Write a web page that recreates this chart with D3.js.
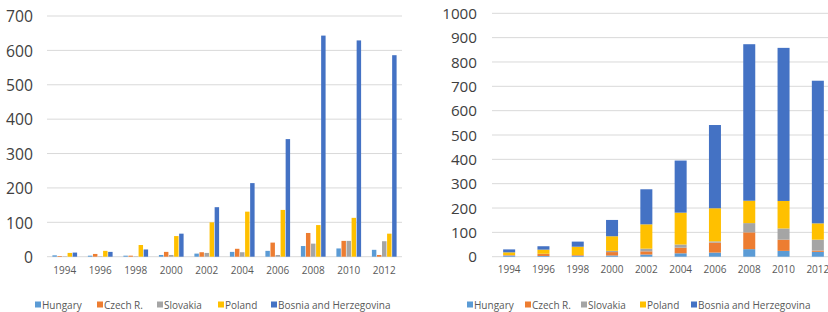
<!DOCTYPE html>
<html>
<head>
<meta charset="utf-8">
<script src="https://cdn.jsdelivr.net/npm/d3@7"></script>
<style>
  body { margin: 0; background: #fff; overflow: hidden; }
  svg { display: block; font-family: "Open Sans", sans-serif; }
</style>
</head>
<body>
<div id="container"></div>
<script>
/* data */
const years = ["1994", "1996", "1998", "2000", "2002", "2004", "2006", "2008", "2010", "2012"];
const countries = ["Hungary", "Czech R.", "Slovakia", "Poland", "Bosnia and Herzegovina"];
const hungary  = [4, 3, 3, 5, 9, 14, 17, 31, 24, 20];
const czech    = [2, 8, 3, 14, 13, 23, 41, 69, 46, 5];
const slovakia = [1, 1, 1, 5, 11, 13, 5, 38, 46, 45];
const poland   = [11, 17, 34, 60, 100, 131, 136, 92, 113, 67];
const bosnia   = [12, 14, 21, 67, 144, 214, 342, 643, 629, 586];
const leftTicks = [0, 100, 200, 300, 400, 500, 600, 700];
const rightTicks = [0, 100, 200, 300, 400, 500, 600, 700, 800, 900, 1000];
const colors = ["#5B9BD5", "#ED7D31", "#A5A5A5", "#FFC000", "#4472C4"];

const series = [hungary, czech, slovakia, poland, bosnia];
const rows = years.map((y, i) => {
  const r = { year: y };
  countries.forEach((c, k) => r[c] = series[k][i]);
  return r;
});

const W = 828, H = 312;
const svg = d3.select("#container").append("svg")
  .attr("width", W).attr("height", H);

const color = d3.scaleOrdinal().domain(countries).range(colors);

/* ---- LEFT: clustered columns ---- */
const xL = d3.scaleBand().domain(years).range([47, 402]).paddingInner(0.27).paddingOuter(0.135);
const xInner = d3.scaleBand().domain(countries).range([0, xL.bandwidth()]).padding(0.12);
const yL = d3.scaleLinear().domain([0, 700]).range([256.7, 16]);

const gL = svg.append("g");
gL.selectAll(".grid").data(leftTicks).join("line")
  .attr("x1", 47).attr("x2", 402)
  .attr("y1", d => yL(d)).attr("y2", d => yL(d))
  .attr("stroke", "#d9d9d9").attr("stroke-width", 1);

gL.selectAll(".ylab").data(leftTicks).join("text")
  .attr("x", 33).attr("y", d => yL(d) + 2)
  .attr("text-anchor", "end").attr("dominant-baseline", "middle")
  .attr("font-size", 15.7).attr("fill", "#404040")
  .text(d => d);

gL.selectAll(".grp").data(rows).join("g")
  .attr("transform", d => `translate(${xL(d.year)},0)`)
  .selectAll("rect").data(d => countries.map(c => ({ c, v: d[c] }))).join("rect")
  .attr("x", d => xInner(d.c)).attr("width", xInner.bandwidth())
  .attr("y", d => yL(d.v)).attr("height", d => yL(0) - yL(d.v))
  .attr("fill", d => color(d.c));

gL.selectAll(".xlab").data(years).join("text")
  .attr("x", d => xL(d) + xL.bandwidth() / 2).attr("y", 271)
  .attr("text-anchor", "middle").attr("dominant-baseline", "middle")
  .attr("font-size", 10).attr("fill", "#595959")
  .text(d => d);

/* ---- RIGHT: stacked columns ---- */
const step = 34.3;
const xR = d3.scaleBand().domain(years).range([492, 492 + step * years.length]).paddingInner(0.65).paddingOuter(0.325);
const yR = d3.scaleLinear().domain([0, 1000]).range([256.7, 13.3]);
const stacked = d3.stack().keys(countries)(rows);

const gR = svg.append("g");
gR.selectAll(".grid").data(rightTicks).join("line")
  .attr("x1", 492).attr("x2", 492 + step * years.length)
  .attr("y1", d => yR(d)).attr("y2", d => yR(d))
  .attr("stroke", "#d9d9d9").attr("stroke-width", 1);

gR.selectAll(".ylab").data(rightTicks).join("text")
  .attr("x", 477).attr("y", d => yR(d) + 1.7)
  .attr("text-anchor", "end").attr("dominant-baseline", "middle")
  .attr("font-size", 15.2).attr("fill", "#404040")
  .text(d => d);

gR.selectAll(".layer").data(stacked).join("g")
  .attr("fill", d => color(d.key))
  .selectAll("rect").data(d => d).join("rect")
  .attr("x", d => xR(d.data.year)).attr("width", xR.bandwidth())
  .attr("y", d => yR(d[1])).attr("height", d => yR(d[0]) - yR(d[1]));

gR.selectAll(".xlab").data(years).join("text")
  .attr("x", d => xR(d) + xR.bandwidth() / 2).attr("y", 270)
  .attr("text-anchor", "middle").attr("dominant-baseline", "middle")
  .attr("font-size", 10).attr("fill", "#595959")
  .text(d => d);

/* ---- legends ---- */
function legend(xs, y) {
  const g = svg.append("g");
  const it = g.selectAll("g").data(countries).join("g")
    .attr("transform", (d, i) => `translate(${xs[i]},${y})`);
  it.append("rect").attr("x", 0).attr("y", -7.5).attr("width", 6).attr("height", 6)
    .attr("fill", d => color(d));
  it.append("text").attr("x", 7).attr("y", 0)
    .attr("font-size", 10).attr("fill", "#595959")
    .text(d => d);
}
legend([35, 97, 157, 218, 271], 309);
legend([467, 525, 581, 640, 691], 309);
</script>
</body>
</html>
